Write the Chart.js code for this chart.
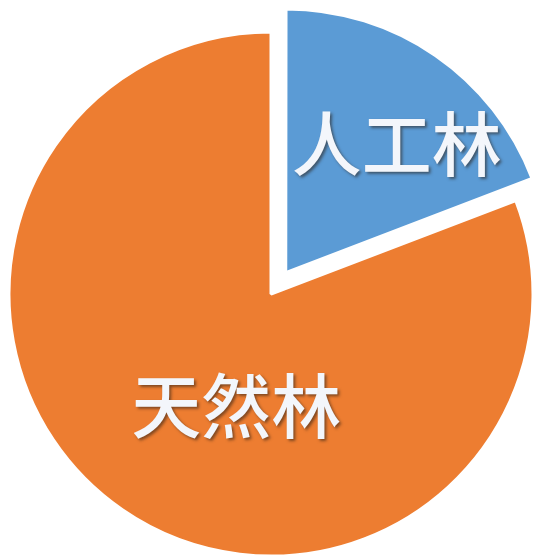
<!DOCTYPE html>
<html>
<head>
<meta charset="utf-8">
<script src="https://cdn.jsdelivr.net/npm/chart.js@4.4.1/dist/chart.umd.min.js"></script>
<style>
  html, body { margin: 0; padding: 0; background: #ffffff; }
  #wrap { width: 537px; height: 556px; }
</style>
</head>
<body>
<div id="wrap"><canvas id="forestPie"></canvas></div>
<script>
// forest types and their share (~19% / 81%)
const categories = ['人工林', '天然林'];
const shares = [19.2, 80.8];
const sliceColors = ['#5b9bd5', '#ed7d31'];

// draws the big white names inside each slice
const sliceLabels = {
  id: 'sliceLabels',
  afterDatasetsDraw(chart, args, opts) {
    const ctx = chart.ctx;
    const meta = chart.getDatasetMeta(0);
    meta.data.forEach((arc, i) => {
      const p = arc.getProps(['x', 'y', 'startAngle', 'endAngle', 'outerRadius'], true);
      const a = p.startAngle + (p.endAngle - p.startAngle) * opts.along[i];
      const r = p.outerRadius * opts.radius[i];
      ctx.save();
      ctx.font = opts.font;
      ctx.textAlign = 'center';
      ctx.textBaseline = 'middle';
      ctx.shadowColor = 'rgba(40, 30, 20, 0.55)';
      ctx.shadowOffsetX = 2;
      ctx.shadowOffsetY = 2;
      ctx.shadowBlur = 3;
      ctx.fillStyle = '#f3f6fb';
      ctx.fillText(chart.data.labels[i], p.x + Math.cos(a) * r, p.y + Math.sin(a) * r);
      ctx.restore();
    });
  }
};

new Chart(document.getElementById('forestPie'), {
  type: 'pie',
  data: {
    labels: categories,
    datasets: [{
      data: shares,
      backgroundColor: sliceColors,
      borderColor: '#ffffff',
      borderWidth: 3,
      offset: [104, 0]
    }]
  },
  options: {
    responsive: true,
    maintainAspectRatio: false,
    animation: false,
    radius: 262,
    layout: { padding: { left: 5, top: 32, right: 0, bottom: 0 } },
    plugins: {
      legend: { display: false },
      tooltip: { enabled: false },
      sliceLabels: {
        font: '500 70px "Noto Sans CJK SC", sans-serif',
        along: [0.58, 0.44],
        radius: [0.745, 0.45]
      }
    }
  },
  plugins: [sliceLabels]
});
</script>
</body>
</html>
